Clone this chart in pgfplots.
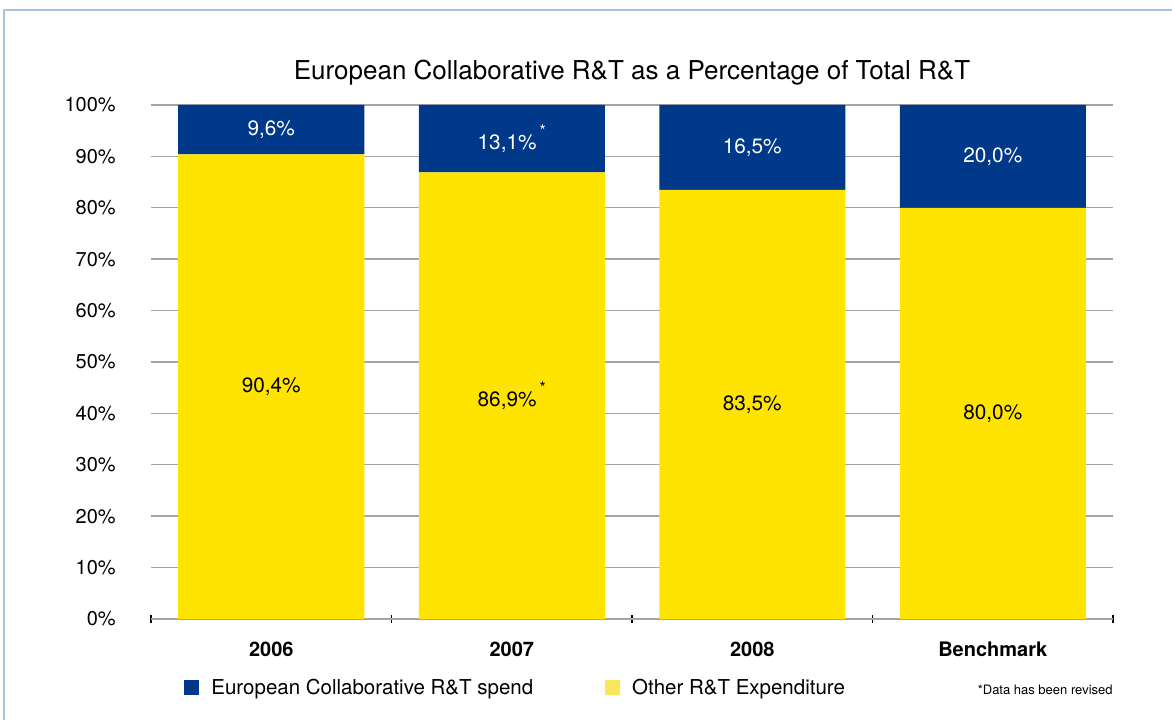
\documentclass[border=0pt]{standalone}
\usepackage{pgfplots}
\pgfplotsset{compat=1.18}
\usepackage{pgfplotstable}
\usepackage{fontspec}
\setmainfont{TeX Gyre Heros}

\definecolor{eublue}{RGB}{0,57,137}
\definecolor{othyel}{RGB}{255,228,0}
\definecolor{legyel}{RGB}{249,231,90}
\definecolor{gridgray}{RGB}{165,165,165}
\definecolor{framebl}{RGB}{168,196,224}

% share of total R&T, in percent; star = revised value
\pgfplotstableread{
x other eu star
0 90.4 9.6  0
1 86.9 13.1 1
2 83.5 16.5 0
3 80.0 20.0 0
}\rtdata

% stacked bars already put the label in the middle of the segment
\pgfplotsset{
    segment label/.style={
        nodes near coords={\pgfmathprintnumber[fixed, fixed zerofill, precision=1, use comma]{\pgfplotspointmeta}\%\ifdim\starflag pt>0.5pt\kern1.5pt\raisebox{0.62em}{\fontsize{8}{8}\selectfont*}\fi},
        every node near coord/.style={anchor=center, text=#1,
            font=\fontsize{10.4}{12}\selectfont},
    },
}

\begin{document}
\begin{tikzpicture}
\begin{axis}[
    name=ax,
    ybar stacked,
    scale only axis,
    width=481pt, height=257pt,
    bar width=93pt,
    xmin=-0.5, xmax=3.5,
    ymin=0, ymax=100,
    axis x line=bottom, axis y line=left,
    axis line style={-, draw=gridgray, line width=0.7pt},
    y axis line style={draw=none},
    xtick={0,1,2,3},
    xticklabels={2006,2007,2008,Benchmark},
    major x tick style={draw=none},
    minor xtick={-0.5,0.5,1.5,2.5,3.5},
    minor x tick style={draw=black, line width=0.6pt},
    minor tick length=4pt,
    tick align=center,
    xticklabel style={font=\bfseries\fontsize{10}{12}\selectfont, yshift=-6pt},
    ytick={0,10,...,100},
    ytick style={draw=none},
    yticklabel={\pgfmathprintnumber{\tick}\%},
    yticklabel style={font=\fontsize{10}{12}\selectfont, xshift=-12pt},
    /pgf/number format/assume math mode=true,
    ymajorgrids,
    grid style={gridgray, line width=0.7pt},
    title={European Collaborative R\&T as a Percentage of Total R\&T},
    title style={font=\fontsize{13}{15}\selectfont, anchor=base, yshift=6.5pt},
    reverse legend,
    legend columns=2,
    legend style={draw=none, fill=none, inner sep=0pt,
        at={(axis description cs:0.0343,-0.134)}, anchor=west,
        font=\fontsize{10.25}{12}\selectfont,
        /tikz/every odd column/.append style={column sep=4pt},
        /tikz/every even column/.append style={column sep=34pt}},
    legend cell align=left,
    visualization depends on=\thisrow{star} \as \starflag,
    point meta=rawy,
]
\addplot[fill=othyel, draw=none, segment label=black,
    legend image code/.code={\fill[legyel] (0,-0.37em) rectangle (0.75em,0.38em);}]
    table[x=x, y=other] {\rtdata};
\addplot[fill=eublue, draw=none, segment label=white,
    legend image code/.code={\fill[eublue] (0,-0.37em) rectangle (0.75em,0.38em);}]
    table[x=x, y=eu] {\rtdata};
\legend{Other R\&T Expenditure, European Collaborative R\&T spend}
\end{axis}
\node[anchor=east, font=\fontsize{6.5}{8}\selectfont, inner sep=0pt]
    at ([yshift=-35.5pt]ax.south east) {*Data has been revised};
\path[use as bounding box] ([xshift=-75.5pt,yshift=-50.5pt]ax.south west)
    rectangle ([xshift=29.5pt,yshift=52.5pt]ax.north east);
\draw[framebl, line width=1pt]
    ([xshift=-73.5pt,yshift=-50.5pt]ax.south west)
    -- ([xshift=-73.5pt,yshift=47.5pt]ax.north west)
    -- ([xshift=29.5pt,yshift=47.5pt]ax.north east);
\end{tikzpicture}
\end{document}
